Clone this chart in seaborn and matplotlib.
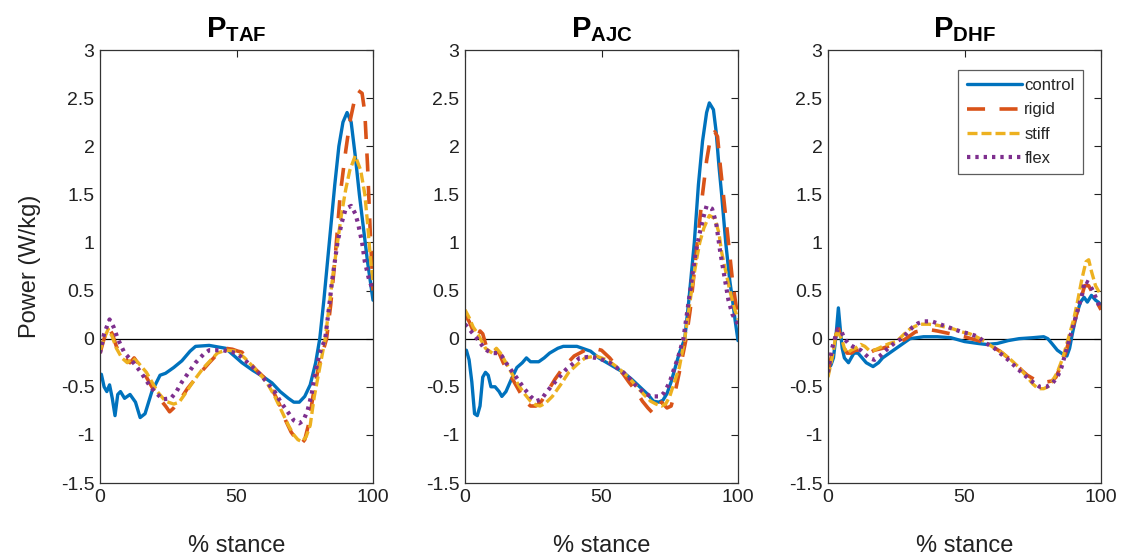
import matplotlib
matplotlib.use("Agg")
import matplotlib.pyplot as plt
import pandas as pd
import numpy as np
import seaborn as sns

sns.set_style("white")
plt.rcParams['font.family'] = ['Liberation Sans', 'DejaVu Sans']
plt.rcParams['mathtext.fontset'] = 'custom'
plt.rcParams['mathtext.bf'] = 'Liberation Sans:bold'
plt.rcParams['mathtext.rm'] = 'Liberation Sans'

# ---- data (x = % stance, y = W/kg) ----
taf_control_x = [0.5, 1.5, 2.5, 3.5, 4.5, 5.5, 6.5, 7.5, 9, 11, 13, 14.7, 16.5, 19, 22, 24, 27, 30, 33, 35, 40, 46, 52, 56, 60, 63, 66, 69, 71, 73, 75, 77, 79, 80.5, 82, 84, 86, 87.5, 89, 90.5, 92, 93.5, 95, 96.5, 98, 100]
taf_control_y = [-0.37, -0.5, -0.55, -0.48, -0.62, -0.8, -0.58, -0.55, -0.62, -0.58, -0.66, -0.82, -0.78, -0.55, -0.38, -0.36, -0.3, -0.23, -0.13, -0.08, -0.07, -0.1, -0.25, -0.33, -0.4, -0.46, -0.55, -0.62, -0.66, -0.66, -0.6, -0.48, -0.25, 0.0, 0.4, 1.0, 1.6, 2.0, 2.25, 2.35, 2.25, 1.9, 1.5, 1.15, 0.8, 0.4]
taf_rigid_x = [0, 1.5, 3, 4.5, 6, 8, 9.5, 11, 12.5, 14, 16, 18, 20, 22, 24, 25.5, 27, 29, 32, 36, 40, 43, 46, 48.5, 50.5, 52, 54, 57, 60, 63, 66, 68, 70, 72, 73.5, 75, 76.5, 78, 80, 83, 84.5, 86, 88, 90, 91.5, 93, 94.5, 96, 97, 98, 99, 100]
taf_rigid_y = [-0.15, 0.0, 0.12, 0.05, -0.08, -0.2, -0.22, -0.25, -0.2, -0.26, -0.35, -0.45, -0.55, -0.63, -0.7, -0.76, -0.72, -0.65, -0.52, -0.38, -0.25, -0.16, -0.1, -0.11, -0.13, -0.14, -0.22, -0.32, -0.4, -0.52, -0.7, -0.85, -0.97, -1.05, -1.1, -1.05, -0.88, -0.6, -0.3, 0.0, 0.35, 0.8, 1.5, 1.95, 2.25, 2.45, 2.58, 2.55, 2.35, 1.8, 1.1, 0.5]
taf_stiff_x = [0, 1.5, 3, 4.5, 6, 8, 10, 12, 14, 17, 19, 21, 24, 27, 29, 31, 34, 38, 43, 46, 50, 53, 55, 58, 61, 64, 67, 69, 71, 72.5, 74, 75.5, 77, 78.5, 80.5, 82.5, 84, 85.5, 87, 88.5, 90, 91.5, 93.5, 95.5, 97, 98, 99, 100]
taf_stiff_y = [-0.12, 0.0, 0.1, 0.02, -0.1, -0.2, -0.25, -0.2, -0.25, -0.35, -0.45, -0.55, -0.65, -0.68, -0.66, -0.58, -0.45, -0.3, -0.15, -0.12, -0.13, -0.2, -0.26, -0.35, -0.45, -0.6, -0.78, -0.9, -1.0, -1.05, -1.07, -1.02, -0.9, -0.6, -0.3, 0.0, 0.35, 0.7, 1.0, 1.3, 1.55, 1.75, 1.9, 1.75, 1.5, 1.2, 0.85, 0.6]
taf_flex_x = [0, 1.5, 3.5, 5, 6.5, 9, 12, 15, 18, 20, 23, 26, 28, 30, 33, 35, 38, 40, 45, 50, 53, 56, 59, 61, 64, 66, 69, 71, 73, 74.5, 76, 77.5, 78.5, 80.5, 82.5, 84, 85, 87, 88.5, 90, 92, 93.5, 94.5, 96, 97, 98.5, 100]
taf_flex_y = [-0.15, 0.05, 0.2, 0.12, 0.0, -0.15, -0.24, -0.35, -0.48, -0.55, -0.63, -0.62, -0.55, -0.45, -0.33, -0.25, -0.16, -0.12, -0.12, -0.15, -0.22, -0.3, -0.38, -0.45, -0.55, -0.65, -0.77, -0.85, -0.88, -0.85, -0.75, -0.58, -0.4, -0.15, 0.0, 0.35, 0.6, 1.0, 1.2, 1.35, 1.38, 1.3, 1.2, 1.0, 0.8, 0.62, 0.5]

ajc_control_x = [0.5, 1.5, 2.5, 3.5, 4.5, 5.5, 6.5, 7.5, 8.5, 9.5, 11, 12.5, 13.5, 15, 17, 19, 21, 22.5, 24, 27, 29, 31, 34, 36, 41, 46, 49, 52, 55, 58, 61, 64, 67, 69, 71, 72.5, 74, 75.5, 77, 78.5, 80.5, 82, 84, 85.5, 87, 88.5, 89.5, 91, 92, 93, 94, 95.5, 97, 98, 99, 100]
ajc_control_y = [-0.12, -0.22, -0.45, -0.78, -0.8, -0.7, -0.4, -0.35, -0.38, -0.5, -0.5, -0.55, -0.6, -0.55, -0.42, -0.3, -0.25, -0.2, -0.24, -0.24, -0.2, -0.15, -0.1, -0.08, -0.08, -0.13, -0.2, -0.25, -0.3, -0.35, -0.42, -0.5, -0.58, -0.65, -0.66, -0.64, -0.57, -0.45, -0.3, -0.15, 0.0, 0.4, 1.0, 1.6, 2.05, 2.35, 2.45, 2.38, 2.15, 1.8, 1.5, 1.0, 0.6, 0.4, 0.18, -0.02]
ajc_rigid_x = [0, 1.5, 3, 4.5, 5.5, 6.5, 8, 9.5, 11, 12.5, 14, 16, 18, 20, 22, 24, 26, 28, 30, 33, 36, 40, 44, 47, 50, 53, 55, 58, 60, 63, 65, 67, 69, 70.5, 72, 74, 75.5, 77, 78.5, 81, 82.5, 84, 85.5, 87, 88.5, 90, 91.5, 92.5, 93.5, 95, 96.5, 98, 99, 100]
ajc_rigid_y = [0.25, 0.18, 0.08, 0.0, 0.08, 0.05, -0.1, -0.15, -0.12, -0.15, -0.25, -0.35, -0.45, -0.55, -0.65, -0.7, -0.7, -0.65, -0.56, -0.42, -0.3, -0.18, -0.12, -0.1, -0.12, -0.2, -0.27, -0.37, -0.45, -0.56, -0.65, -0.72, -0.78, -0.72, -0.66, -0.72, -0.7, -0.55, -0.35, 0.0, 0.3, 0.7, 1.1, 1.5, 1.85, 2.1, 2.15, 2.1, 1.8, 1.4, 1.0, 0.6, 0.4, 0.2]
ajc_stiff_x = [0, 1.5, 3, 4.5, 6, 7.5, 9, 10, 11.5, 13, 15, 17.5, 20, 22, 24, 26, 27.5, 29.5, 32, 35, 38, 41, 44, 48, 52, 55, 58, 60.5, 63, 65.5, 68, 70, 72, 73.5, 75, 76.5, 78.5, 80.5, 82, 83.5, 85, 86, 87.5, 89.5, 91.5, 93, 94, 95.5, 97, 98.5, 100]
ajc_stiff_y = [0.3, 0.22, 0.12, 0.06, -0.02, -0.1, -0.13, -0.15, -0.1, -0.15, -0.25, -0.38, -0.5, -0.58, -0.65, -0.69, -0.7, -0.67, -0.6, -0.48, -0.35, -0.27, -0.2, -0.18, -0.22, -0.28, -0.35, -0.42, -0.5, -0.58, -0.65, -0.68, -0.7, -0.68, -0.6, -0.47, -0.3, 0.0, 0.3, 0.6, 0.85, 1.0, 1.15, 1.28, 1.25, 1.1, 0.9, 0.7, 0.5, 0.33, 0.2]
ajc_flex_x = [0, 1.5, 3, 5, 7, 8.5, 10, 12, 13.5, 15, 17.5, 20, 22, 24, 26, 28, 30, 33, 37, 40, 42, 45, 48, 50.5, 53, 55.5, 58, 60.5, 63, 65.5, 68, 70, 71.5, 73, 75, 76.5, 78, 80, 81.5, 83, 84.5, 86, 87.5, 88.5, 90.5, 92, 93.5, 95, 96.5, 98, 100]
ajc_flex_y = [0.15, 0.1, 0.05, -0.02, -0.1, -0.13, -0.15, -0.15, -0.18, -0.25, -0.35, -0.45, -0.53, -0.6, -0.65, -0.63, -0.55, -0.45, -0.32, -0.25, -0.2, -0.19, -0.2, -0.22, -0.25, -0.3, -0.35, -0.42, -0.5, -0.56, -0.6, -0.6, -0.6, -0.56, -0.45, -0.32, -0.2, 0.0, 0.3, 0.6, 0.9, 1.1, 1.28, 1.38, 1.35, 1.2, 0.9, 0.65, 0.4, 0.25, 0.15]

dhf_control_x = [0, 1, 2, 3, 3.8, 4.5, 5.2, 6, 7.5, 9.5, 11, 12.5, 14, 16.5, 18.5, 20, 22.5, 25, 27.5, 30, 35, 40, 45, 50, 55, 58, 62, 66, 70, 75, 79, 80.5, 82, 84, 86, 87.5, 88.5, 89.5, 91, 92.5, 93.8, 95, 96.5, 98, 99, 100]
dhf_control_y = [-0.3, -0.28, -0.2, 0.05, 0.32, 0.1, -0.1, -0.2, -0.25, -0.15, -0.15, -0.2, -0.25, -0.29, -0.25, -0.2, -0.15, -0.1, -0.05, 0.0, 0.02, 0.02, 0.01, -0.03, -0.05, -0.06, -0.05, -0.02, 0.0, 0.01, 0.02, 0.0, -0.05, -0.12, -0.16, -0.18, -0.1, 0.05, 0.25, 0.38, 0.43, 0.38, 0.45, 0.4, 0.38, 0.35]
dhf_rigid_x = [0, 1.5, 3, 4, 5.5, 7, 8.5, 10, 11.5, 13, 15, 17, 20, 22, 25, 28, 30, 32, 35, 38, 40, 45, 50, 55, 58, 60, 63, 66, 69, 71, 73, 76, 78, 80, 82, 83.5, 85, 87, 88.5, 90, 91.5, 93, 94, 95.5, 97, 98.5, 100]
dhf_rigid_y = [-0.35, -0.15, 0.05, 0.1, -0.08, -0.15, -0.15, -0.12, -0.12, -0.15, -0.15, -0.12, -0.1, -0.08, -0.05, -0.01, 0.03, 0.07, 0.09, 0.09, 0.08, 0.05, 0.02, -0.02, -0.05, -0.08, -0.13, -0.2, -0.27, -0.33, -0.38, -0.43, -0.45, -0.45, -0.44, -0.4, -0.3, -0.15, 0.0, 0.15, 0.3, 0.45, 0.55, 0.55, 0.47, 0.38, 0.3]
dhf_stiff_x = [0, 1.5, 3, 4, 5, 6, 7, 8.5, 10, 12, 13.5, 15, 17, 20, 22.5, 25, 28, 30, 32, 34, 37, 40, 43, 46, 49, 52, 55, 58, 61, 64, 67, 70, 73, 75, 77, 79, 80.5, 82, 84, 86, 88, 90, 91.5, 93, 94.5, 95.5, 96.5, 98, 100]
dhf_stiff_y = [-0.4, -0.2, 0.05, 0.05, 0.0, -0.1, -0.15, -0.12, -0.1, -0.06, -0.08, -0.12, -0.12, -0.08, -0.05, -0.03, 0.05, 0.1, 0.13, 0.15, 0.15, 0.14, 0.12, 0.1, 0.07, 0.05, 0.01, -0.04, -0.1, -0.15, -0.22, -0.3, -0.4, -0.47, -0.52, -0.52, -0.5, -0.45, -0.35, -0.2, 0.0, 0.2, 0.4, 0.62, 0.8, 0.82, 0.7, 0.55, 0.45]
dhf_flex_x = [0, 1.5, 3.5, 5, 6, 7.5, 9, 10.5, 12, 13.5, 15, 17, 19, 22, 25, 27, 29, 31, 33, 35, 38, 40, 43, 46, 49, 52, 55, 58, 61, 63, 66, 69, 72, 75, 77.5, 80, 82, 84, 85.5, 87, 88, 90, 91.5, 93, 94, 95.5, 97, 98.5, 100]
dhf_flex_y = [-0.35, -0.1, 0.1, 0.07, 0.0, -0.05, -0.08, -0.1, -0.12, -0.16, -0.2, -0.22, -0.18, -0.1, -0.03, 0.0, 0.06, 0.12, 0.16, 0.18, 0.18, 0.16, 0.13, 0.1, 0.07, 0.05, 0.02, -0.05, -0.1, -0.15, -0.22, -0.3, -0.38, -0.45, -0.5, -0.5, -0.47, -0.4, -0.3, -0.15, -0.05, 0.15, 0.3, 0.45, 0.6, 0.58, 0.5, 0.4, 0.3]

panels = [
    ('TAF', {'control': (taf_control_x, taf_control_y), 'rigid': (taf_rigid_x, taf_rigid_y),
             'stiff': (taf_stiff_x, taf_stiff_y), 'flex': (taf_flex_x, taf_flex_y)}),
    ('AJC', {'control': (ajc_control_x, ajc_control_y), 'rigid': (ajc_rigid_x, ajc_rigid_y),
             'stiff': (ajc_stiff_x, ajc_stiff_y), 'flex': (ajc_flex_x, ajc_flex_y)}),
    ('DHF', {'control': (dhf_control_x, dhf_control_y), 'rigid': (dhf_rigid_x, dhf_rigid_y),
             'stiff': (dhf_stiff_x, dhf_stiff_y), 'flex': (dhf_flex_x, dhf_flex_y)}),
]

conditions = ['control', 'rigid', 'stiff', 'flex']
colors = {'control': '#0072BD', 'rigid': '#D95319', 'stiff': '#EDB120', 'flex': '#7E2F8E'}
styles = {'control': dict(ls='-', lw=2.4),
          'rigid': dict(ls=(0, (5, 4)), lw=2.6),
          'stiff': dict(ls=(0, (3, 1.2)), lw=2.4),
          'flex': dict(ls=(0, (0.8, 1.2)), lw=3.0)}

fig = plt.figure(figsize=(11.21, 5.59), dpi=100)
lefts = [100, 465, 828]
yticks = np.arange(-1.5, 3.01, 0.5)

for i, (name, series) in enumerate(panels):
    ax = fig.add_axes([lefts[i] / 1121, 76 / 559, 273 / 1121, 433 / 559])
    ax.axhline(0, color='black', lw=0.9, zorder=1)
    for cond in conditions:
        xs, ys = series[cond]
        df = pd.DataFrame({'x': xs, 'y': ys})
        st = styles[cond]
        sns.lineplot(data=df, x='x', y='y', ax=ax, color=colors[cond], lw=st['lw'],
                     label=cond, sort=False, estimator=None)
        ax.lines[-1].set_linestyle(st['ls'])
    ax.set_xlim(0, 100)
    ax.set_ylim(-1.5, 3)
    ax.set_xticks([0, 50, 100])
    ax.set_yticks(yticks)
    ax.set_yticklabels(['%g' % v for v in yticks])
    ax.tick_params(direction='in', top=True, right=True, length=5, width=0.8,
                   labelsize=14, pad=4, colors='#222222', labelcolor='#222222')
    for sp in ax.spines.values():
        sp.set_color('#333333')
        sp.set_linewidth(0.9)
    ax.set_xlabel('% stance', fontsize=17, labelpad=21, color='#222222')
    if i == 0:
        ax.set_ylabel('Power (W/kg)', fontsize=17, labelpad=14, color='#222222')
    else:
        ax.set_ylabel('')
    ax.set_title(r'$\mathbf{P}_{\mathbf{%s}}$' % name, fontsize=21, pad=9, color='black')
    if i == 2:
        leg = ax.legend(loc='upper right', bbox_to_anchor=(0.934, 0.954), fontsize=12,
                        frameon=True, fancybox=False, edgecolor='#333333',
                        handlelength=3.3, handletextpad=0.15, labelspacing=0.55,
                        borderpad=0.5, borderaxespad=0)
        leg.get_frame().set_linewidth(0.9)
        for h, cond in zip(leg.get_lines(), conditions):
            h.set_linestyle(styles[cond]['ls'])
    else:
        ax.get_legend().remove()

fig.savefig('out.png', dpi=100)
